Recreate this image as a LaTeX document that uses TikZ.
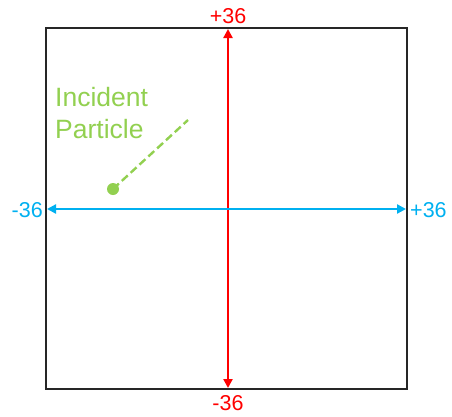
\documentclass[tikz,border=0pt]{standalone}
\usepackage{fontspec}
\setmainfont{Liberation Sans}
\usetikzlibrary{arrows.meta}
\definecolor{axred}{RGB}{255,0,0}
\definecolor{axblue}{RGB}{0,176,240}
\definecolor{partgreen}{RGB}{146,208,80}
\begin{document}
\begin{tikzpicture}[x=1pt,y=-1pt,
  lbl/.style={font=\fontsize{21.5}{26}\selectfont,inner sep=0pt},
  axis/.style={line width=2.4pt,{Triangle[length=9pt,width=9pt]}-{Triangle[length=9pt,width=9pt]}}]
\useasboundingbox(0,0)rectangle(452,416);
\draw[line width=1.6pt,black!85](46,28)rectangle(407,389);
% axes
\coordinate(top)at(228,29);\coordinate(bot)at(228,388);
\coordinate(lft)at(47,209);\coordinate(rgt)at(406,209);
\draw[axis,axred](bot)--(top);
\draw[axis,axblue](lft)--(rgt);
\node[lbl,text=axred](ytop)at(228,16){+36};
\node[lbl,text=axred](ybot)at(228,403){-36};
\node[lbl,text=axblue,anchor=east](xlft)at(43,210){-36};
\node[lbl,text=axblue,anchor=west](xrgt)at(410,210){+36};
% particle
\node[font=\fontsize{26.5}{32}\selectfont,text=partgreen,align=left,anchor=north west,inner sep=0pt](lab)at(55,87){Incident\\Particle};
\node[circle,fill=partgreen,minimum size=12pt,inner sep=0pt](dot)at(113,189){};
\coordinate(tail)at(188,120);
\draw[partgreen,line width=2.4pt,dash pattern=on 8pt off 4pt](dot.center)--(tail);
\end{tikzpicture}
\end{document}
